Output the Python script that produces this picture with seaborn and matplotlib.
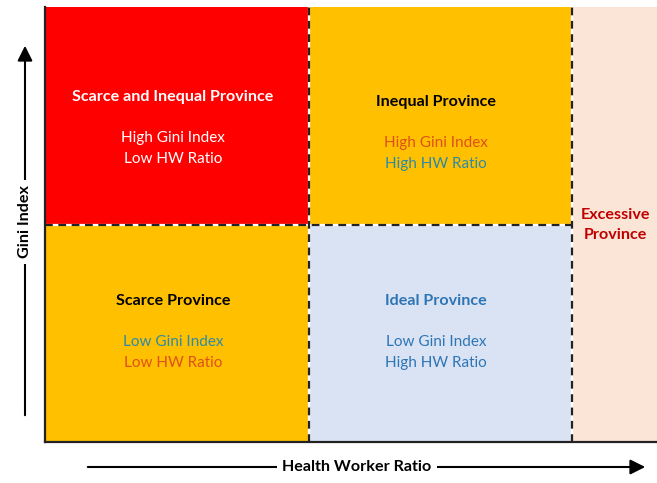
import matplotlib
matplotlib.use("Agg")
import matplotlib.pyplot as plt
from matplotlib.patches import Rectangle
import seaborn as sns

sns.set_theme(style="white")
plt.rcParams['font.family'] = ['Lato', 'DejaVu Sans']

# Quadrant data (grid cells in data units)
regions = ["Scarce and Inequal Province", "Inequal Province", "Scarce Province", "Ideal Province", "Excessive Province"]
x_left = [0.0, 1.0, 0.0, 1.0, 2.0]
x_right = [1.0, 2.0, 1.0, 2.0, 2.322]
y_bottom = [1.0, 1.0, 0.0, 0.0, 0.0]
y_top = [2.0, 2.0, 1.0, 1.0, 2.0]
fill_colors = ["#FF0000", "#FFC000", "#FFC000", "#DAE3F3", "#FBE5D6"]

titles = ["Scarce and Inequal Province", "Inequal Province", "Scarce Province", "Ideal Province", "Excessive\nProvince"]
title_colors = ["white", "black", "black", "#2E75B6", "#C00000"]
gini_labels = ["High Gini Index", "High Gini Index", "Low Gini Index", "Low Gini Index", ""]
gini_colors = ["white", "#E0501A", "#2E8AA6", "#2E75B6", "white"]
hw_labels = ["Low HW Ratio", "High HW Ratio", "Low HW Ratio", "High HW Ratio", ""]
hw_colors = ["white", "#2E8AA6", "#E0501A", "#2E75B6", "white"]

fig = plt.figure(figsize=(6.57, 4.83), dpi=100)
ax = fig.add_axes([45/657, 41/483, 1 - 45/657, 435/483])
ax.set_xlim(0, 2.322)
ax.set_ylim(0, 2.0)

for i in range(len(regions)):
    ax.add_patch(Rectangle((x_left[i], y_bottom[i]), x_right[i] - x_left[i], y_top[i] - y_bottom[i],
                           facecolor=fill_colors[i], edgecolor="none", zorder=1))

# dashed separators (white underlay + black dashes)
for xv in [1.0, 2.0]:
    ax.plot([xv, xv], [0, 2], color="white", lw=1.6, zorder=2)
    ax.plot([xv, xv], [0, 2], color="#222222", lw=1.6, ls=(0, (3.5, 2.5)), zorder=3)
ax.plot([0, 2], [1, 1], color="white", lw=1.6, zorder=2)
ax.plot([0, 2], [1, 1], color="#222222", lw=1.6, ls=(0, (3.5, 2.5)), zorder=3)

# text positions per quadrant (data coords)
def px2x(px):
    return (px - 45) / (657 - 45) * 2.322

def py2y(py):
    return (442 - py) / 435 * 2.0

title_px = [(173, 97), (436, 102), (173, 301), (436, 301), (615, 225)]
for i in range(len(regions)):
    tx, ty = title_px[i]
    ax.text(px2x(tx), py2y(ty), titles[i], ha="center", va="center", fontsize=11.6,
            fontweight="bold", color=title_colors[i], zorder=4, linespacing=1.55)
    if gini_labels[i]:
        ax.text(px2x(tx), py2y(ty + 41), gini_labels[i], ha="center", va="center", fontsize=11,
                color=gini_colors[i], zorder=4)
        ax.text(px2x(tx), py2y(ty + 62), hw_labels[i], ha="center", va="center", fontsize=11,
                color=hw_colors[i], zorder=4)

ax.set_xticks([])
ax.set_yticks([])
for s in ["top", "right"]:
    ax.spines[s].set_visible(False)
for s in ["left", "bottom"]:
    ax.spines[s].set_visible(True)
    ax.spines[s].set_color("#222222")
    ax.spines[s].set_linewidth(1.6)
    ax.spines[s].set_zorder(5)

# axis arrows in figure pixel coordinates
def fx(px):
    return px / 657

def fy(py):
    return 1 - py / 483

fig.add_artist(matplotlib.patches.FancyArrowPatch((fx(85), fy(467)), (fx(648), fy(467)),
               transform=fig.transFigure, arrowstyle="-|>,head_length=6,head_width=3",
               color="black", lw=1.5, mutation_scale=1.5))
fig.add_artist(matplotlib.patches.FancyArrowPatch((fx(25), fy(418)), (fx(25), fy(43)),
               transform=fig.transFigure, arrowstyle="-|>,head_length=6,head_width=3",
               color="black", lw=1.5, mutation_scale=1.5))
fig.text(fx(357), fy(467), "Health Worker Ratio", ha="center", va="center", fontsize=11.6,
         fontweight="bold", color="black",
         bbox=dict(facecolor="white", edgecolor="none", pad=4))
fig.text(fx(25), fy(222), "Gini Index", ha="center", va="center", rotation=90, fontsize=11.6,
         fontweight="bold", color="black",
         bbox=dict(facecolor="white", edgecolor="none", pad=4))

fig.savefig("out.png", dpi=100)
